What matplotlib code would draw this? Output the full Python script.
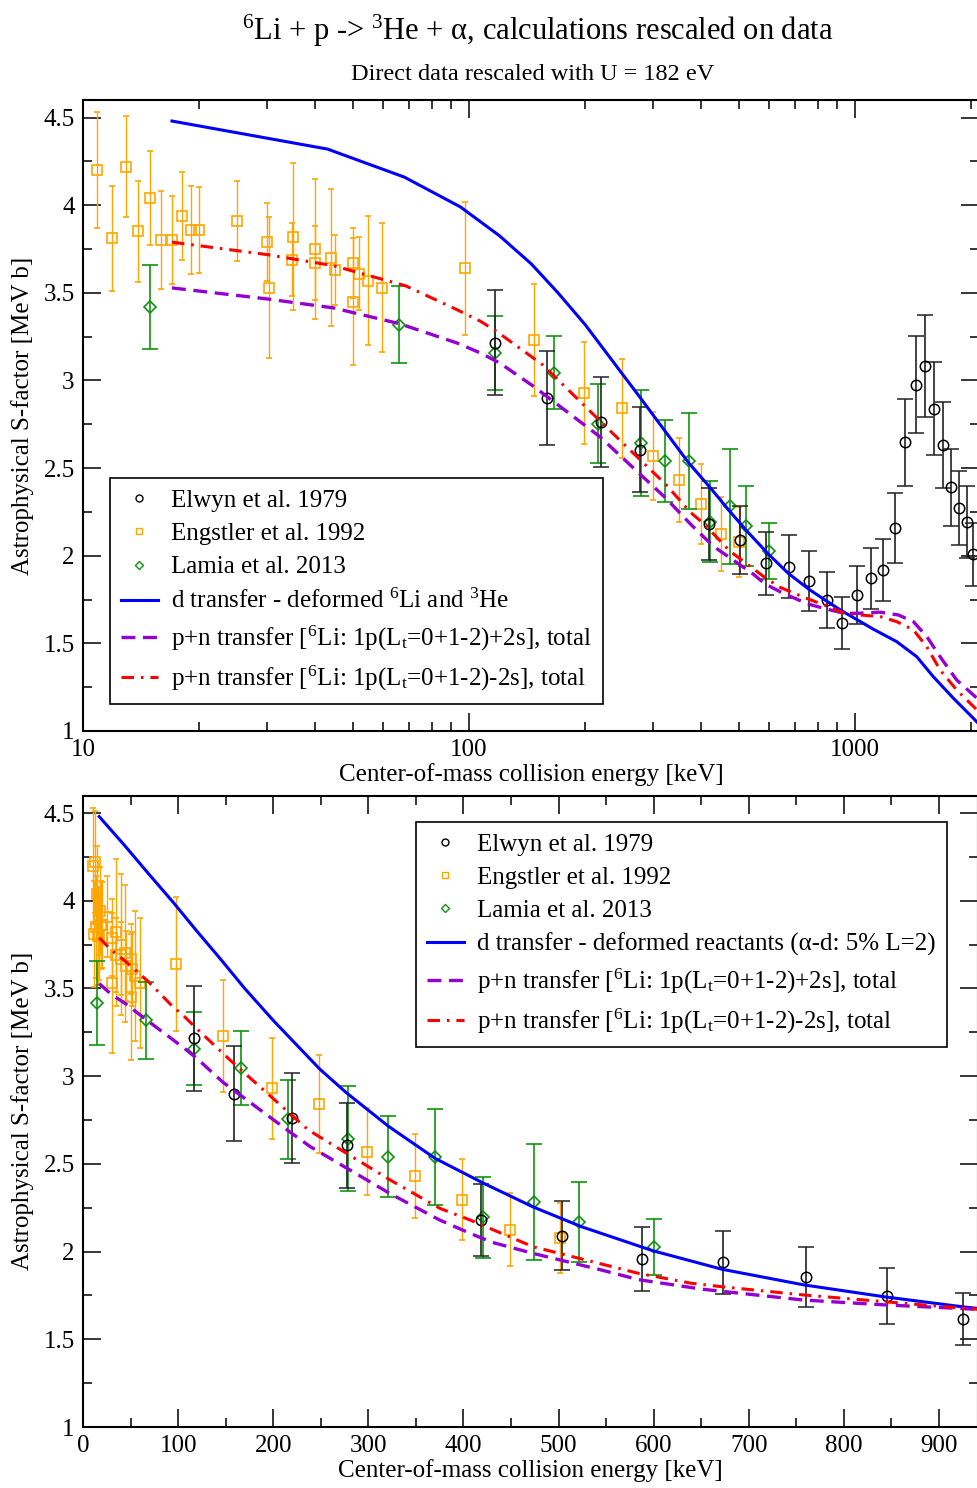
import matplotlib
matplotlib.use('Agg')
import matplotlib.pyplot as plt
from matplotlib.lines import Line2D
from matplotlib.ticker import MultipleLocator, LogLocator, FixedLocator, FuncFormatter, NullFormatter

plt.rcParams['font.family'] = ['Liberation Serif', 'DejaVu Serif']
plt.rcParams['mathtext.fontset'] = 'custom'
plt.rcParams['mathtext.rm'] = 'Liberation Serif'
plt.rcParams['mathtext.it'] = 'Liberation Serif:italic'
plt.rcParams['lines.scale_dashes'] = False

# ---- data (E in keV, S in MeV b) ----
elwyn_e = [116.6, 159.2, 219.8, 277.3, 418.6, 503.6, 588, 673, 760, 845, 925,
           1012, 1098, 1184, 1267, 1350, 1436, 1521, 1605, 1690, 1774, 1863, 1950, 2025]
elwyn_s = [3.216, 2.90, 2.763, 2.605, 2.18, 2.091, 1.958, 1.938, 1.855, 1.748, 1.615,
           1.777, 1.872, 1.919, 2.158, 2.646, 2.976, 3.084, 2.839, 2.633, 2.39, 2.272, 2.19, 2.009]
elwyn_err = [0.30, 0.27, 0.257, 0.244, 0.205, 0.195, 0.18, 0.18, 0.17, 0.16, 0.15,
             0.166, 0.174, 0.178, 0.20, 0.247, 0.278, 0.29, 0.265, 0.245, 0.22, 0.21, 0.205, 0.18]

engstler_e = [10.9, 11.9, 12.95, 13.9, 14.9, 15.9, 17.0, 18.0, 19.0, 20.0, 25.0, 30.0, 30.3,
              34.8, 35.1, 40.0, 40.0, 44.0, 45.0, 50.0, 50.0, 51.9, 54.8, 59.6, 97.8,
              147.4, 198.6, 248.6, 299, 349, 399, 449, 501]
engstler_s = [4.20, 3.81, 4.22, 3.85, 4.04, 3.80, 3.80, 3.94, 3.86, 3.86, 3.91, 3.79, 3.53,
              3.69, 3.82, 3.75, 3.67, 3.70, 3.63, 3.67, 3.45, 3.61, 3.57, 3.53, 3.64,
              3.23, 2.93, 2.84, 2.57, 2.43, 2.295, 2.125, 2.078]
engstler_err = [0.33, 0.30, 0.29, 0.29, 0.27, 0.28, 0.25, 0.25, 0.25, 0.245, 0.23, 0.22, 0.40,
                0.21, 0.42, 0.40, 0.21, 0.39, 0.20, 0.20, 0.36, 0.21, 0.37, 0.37, 0.38,
                0.32, 0.29, 0.28, 0.25, 0.24, 0.23, 0.21, 0.20]

lamia_e = [14.9, 65.9, 116.8, 166, 216, 278.5, 321, 370.5, 421, 474, 522, 600]
lamia_s = [3.417, 3.319, 3.157, 3.045, 2.753, 2.643, 2.542, 2.538, 2.195, 2.281, 2.17, 2.027]
lamia_err = [0.24, 0.22, 0.21, 0.21, 0.225, 0.30, 0.233, 0.274, 0.23, 0.33, 0.227, 0.16]

dtr_e = [17, 43, 68, 95, 120, 145, 170, 200, 249, 277, 321, 370, 421, 473, 524, 599,
         672, 758, 843, 925, 1012, 1115, 1282, 1445, 1595, 1798, 2025, 2200]
dtr_s = [4.48, 4.32, 4.16, 3.99, 3.825, 3.665, 3.50, 3.318, 3.04, 2.905, 2.715, 2.532, 2.39, 2.255,
         2.142, 2.005, 1.899, 1.81, 1.742, 1.685, 1.635, 1.581, 1.51, 1.424, 1.31, 1.187, 1.073, 0.99]

pn_plus_e = [17, 30, 44.5, 66, 93, 107, 120, 147, 218, 239, 323, 375, 407, 430, 473, 545,
             584, 652, 757, 843, 940, 1030, 1161, 1295, 1416, 1534, 1661, 1834, 2070, 2200]
pn_plus_s = [3.528, 3.465, 3.414, 3.324, 3.214, 3.157, 3.10, 2.966, 2.68, 2.598, 2.33, 2.18,
             2.104, 2.053, 1.99, 1.895, 1.84, 1.785, 1.724, 1.696, 1.671, 1.672, 1.678, 1.662,
             1.624, 1.539, 1.424, 1.291, 1.187, 1.13]

pn_minus_e = [17, 30, 44.5, 68.5, 93, 107, 118, 155, 237, 323, 375, 407, 473, 584, 639,
              671, 757, 843, 940, 1030, 1161, 1282, 1416, 1534, 1661, 1834, 2070, 2200]
pn_minus_s = [3.789, 3.718, 3.655, 3.54, 3.404, 3.338, 3.279, 3.09, 2.693, 2.408, 2.247, 2.18,
              2.028, 1.876, 1.82, 1.80, 1.753, 1.714, 1.671, 1.662, 1.653, 1.624, 1.577, 1.481,
              1.348, 1.234, 1.12, 1.06]

W, H = 977, 1488
fig = plt.figure(figsize=(W / 100, H / 100), dpi=100)
ax1 = fig.add_axes([83 / W, 1 - 731 / H, 896 / W, 631 / H])
ax2 = fig.add_axes([83 / W, 1 - 1427 / H, 895 / W, 631.5 / H])

ORANGE = '#ffa500'
GREEN = '#0f930f'
BLUE = '#0000ff'
PURPLE = '#9400d3'
RED = '#ff0000'
FS = 18


def draw(ax):
    ax.errorbar(engstler_e, engstler_s, yerr=engstler_err, fmt='s', ms=6.5, mfc='none',
                mec=ORANGE, mew=1.2, ecolor=ORANGE, elinewidth=1.0, capsize=2.3,
                capthick=1.0, zorder=2)
    ax.errorbar(lamia_e, lamia_s, yerr=lamia_err, fmt='D', ms=6, mfc='none',
                mec=GREEN, mew=1.2, ecolor=GREEN, elinewidth=1.2, capsize=6,
                capthick=1.2, zorder=3)
    ax.errorbar(elwyn_e, elwyn_s, yerr=elwyn_err, fmt='o', ms=7.5, mfc='none',
                mec='black', mew=1.1, ecolor='#222222', elinewidth=1.2, capsize=6,
                capthick=1.2, zorder=4)
    ax.plot(dtr_e, dtr_s, color=BLUE, lw=2.2, zorder=5)
    ax.plot(pn_plus_e, pn_plus_s, color=PURPLE, lw=2.4, dashes=(10, 5.5), zorder=5)
    ax.plot(pn_minus_e, pn_minus_s, color=RED, lw=2.2, dashes=(9, 5, 1.8, 5), zorder=6)

    ax.set_ylim(1, 4.6)
    ax.yaxis.set_major_locator(MultipleLocator(0.5))
    ax.yaxis.set_minor_locator(MultipleLocator(0.25))
    ax.yaxis.set_major_formatter(FuncFormatter(lambda v, p: f'{v:g}'))
    ax.tick_params(which='both', direction='in', top=True, right=True, width=1.1,
                   labelsize=FS, pad=6)
    ax.tick_params(which='major', length=13)
    ax.tick_params(which='minor', length=6.5)
    for sp in ax.spines.values():
        sp.set_linewidth(1.5)
    ax.set_ylabel('Astrophysical S-factor [MeV b]', fontsize=FS, labelpad=7)
    ax.set_xlabel('Center-of-mass collision energy [keV]', fontsize=FS, labelpad=1)


draw(ax1)
ax1.set_xscale('log')
ax1.set_xlim(10, 2095)
ax1.xaxis.set_major_locator(FixedLocator([10, 100, 1000]))
ax1.xaxis.set_major_formatter(FuncFormatter(lambda v, p: f'{v:g}'))
ax1.xaxis.set_minor_locator(LogLocator(base=10, subs=range(2, 10)))
ax1.xaxis.set_minor_formatter(NullFormatter())

draw(ax2)
ax2.set_xlim(0, 941)
ax2.xaxis.set_major_locator(MultipleLocator(100))
ax2.xaxis.set_minor_locator(MultipleLocator(50))


def handles(dlabel):
    h = [Line2D([], [], ls='none', marker='o', ms=5, mfc='none', mec='black', mew=1.0),
         Line2D([], [], ls='none', marker='s', ms=5, mfc='none', mec=ORANGE, mew=1.0),
         Line2D([], [], ls='none', marker='D', ms=4.5, mfc='none', mec=GREEN, mew=1.0),
         Line2D([], [], color=BLUE, lw=2.2),
         Line2D([], [], color=PURPLE, lw=2.4, dashes=(10, 5.5)),
         Line2D([], [], color=RED, lw=2.2, dashes=(9, 5, 1.8, 5))]
    labels = ['Elwyn et al. 1979', 'Engstler et al. 1992', 'Lamia et al. 2013', dlabel,
              r'p+n transfer [$^{6}$Li: 1p(L$_{\mathrm{t}}$=0+1-2)+2s], total',
              r'p+n transfer [$^{6}$Li: 1p(L$_{\mathrm{t}}$=0+1-2)-2s], total']
    return h, labels


for ax, dl, (x0, y0) in [(ax1, r'd transfer - deformed $^{6}$Li and $^{3}$He', (110, 478)),
                         (ax2, 'd transfer - deformed reactants (α-d: 5% L=2)', (416, 822))]:
    h, l = handles(dl)
    leg = ax.legend(h, l, loc='upper left', bbox_to_anchor=(x0 / W, 1 - y0 / H),
                    bbox_transform=fig.transFigure, fontsize=FS, frameon=True,
                    fancybox=False, framealpha=1, edgecolor='black', borderpad=0.45,
                    labelspacing=0.43, handlelength=1.45, handletextpad=0.55,
                    borderaxespad=0)
    leg.get_frame().set_linewidth(1.2)
    leg.set_zorder(10)

fig.text(538 / W, 1 - 31 / H, r'$^{6}$Li + p -> $^{3}$He + α, calculations rescaled on data',
         ha='center', va='center', fontsize=22)
fig.text(533 / W, 1 - 74 / H, 'Direct data rescaled with U = 182 eV',
         ha='center', va='center', fontsize=17.5)

fig.savefig('out.png', dpi=100)
